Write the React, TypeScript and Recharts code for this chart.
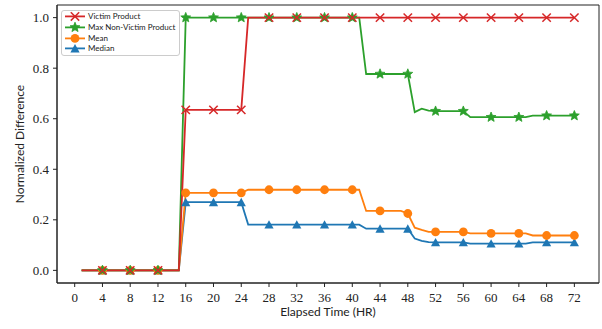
import { LineChart, Line, XAxis, YAxis, ReferenceArea, Legend } from 'recharts';

// elapsed hours (one sample per hour)
const hours = [
  1, 2, 3, 4, 5, 6, 7, 8, 9, 10, 11, 12, 13, 14, 15, 16, 17, 18, 19, 20, 21, 22, 23, 24,
  25, 26, 27, 28, 29, 30, 31, 32, 33, 34, 35, 36, 37, 38, 39, 40, 41, 42, 43, 44, 45, 46, 47, 48,
  49, 50, 51, 52, 53, 54, 55, 56, 57, 58, 59, 60, 61, 62, 63, 64, 65, 66, 67, 68, 69, 70, 71, 72,
];

const victim = [
  0, 0, 0, 0, 0, 0, 0, 0, 0, 0, 0, 0, 0, 0, 0, 0.635, 0.635, 0.635, 0.635, 0.635, 0.635, 0.635, 0.635, 0.635,
  1, 1, 1, 1, 1, 1, 1, 1, 1, 1, 1, 1, 1, 1, 1, 1, 1, 1, 1, 1, 1, 1, 1, 1,
  1, 1, 1, 1, 1, 1, 1, 1, 1, 1, 1, 1, 1, 1, 1, 1, 1, 1, 1, 1, 1, 1, 1, 1,
];

const maxOther = [
  0, 0, 0, 0, 0, 0, 0, 0, 0, 0, 0, 0, 0, 0, 0, 1, 1, 1, 1, 1, 1, 1, 1, 1,
  1, 1, 1, 1, 1, 1, 1, 1, 1, 1, 1, 1, 1, 1, 1, 1, 1, 0.777, 0.777, 0.777, 0.777, 0.777, 0.777, 0.777,
  0.626, 0.64, 0.632, 0.63, 0.63, 0.63, 0.63, 0.63, 0.606, 0.606, 0.606, 0.606, 0.606, 0.606, 0.606, 0.606,
  0.606, 0.612, 0.612, 0.612, 0.612, 0.612, 0.612, 0.612,
];

const mean = [
  0, 0, 0, 0, 0, 0, 0, 0, 0, 0, 0, 0, 0, 0, 0, 0.307, 0.307, 0.307, 0.307, 0.307, 0.307, 0.307, 0.307, 0.307,
  0.319, 0.319, 0.319, 0.319, 0.319, 0.319, 0.319, 0.319, 0.319, 0.319, 0.319, 0.319, 0.319, 0.319, 0.319, 0.319,
  0.319, 0.235, 0.235, 0.235, 0.235, 0.235, 0.235, 0.225,
  0.169, 0.16, 0.152, 0.152, 0.152, 0.152, 0.152, 0.152, 0.146, 0.146, 0.146, 0.146, 0.146, 0.146, 0.146, 0.146,
  0.146, 0.138, 0.138, 0.138, 0.138, 0.138, 0.138, 0.138,
];

const median = [
  0, 0, 0, 0, 0, 0, 0, 0, 0, 0, 0, 0, 0, 0, 0, 0.27, 0.27, 0.27, 0.27, 0.27, 0.27, 0.27, 0.27, 0.27,
  0.181, 0.181, 0.181, 0.181, 0.181, 0.181, 0.181, 0.181, 0.181, 0.181, 0.181, 0.181, 0.181, 0.181, 0.181, 0.181,
  0.181, 0.165, 0.165, 0.165, 0.165, 0.165, 0.165, 0.165,
  0.126, 0.117, 0.112, 0.111, 0.111, 0.111, 0.111, 0.111, 0.106, 0.106, 0.106, 0.106, 0.106, 0.106, 0.106, 0.106,
  0.106, 0.111, 0.111, 0.111, 0.111, 0.111, 0.111, 0.111,
];

const xTicks = [0, 4, 8, 12, 16, 20, 24, 28, 32, 36, 40, 44, 48, 52, 56, 60, 64, 68, 72];
const yTicks = [0, 0.2, 0.4, 0.6, 0.8, 1.0];

const series = [
  { key: 'victim', name: 'Victim Product', color: '#d62728', marker: 'x' },
  { key: 'maxOther', name: 'Max Non-Victim Product', color: '#2ca02c', marker: 'star' },
  { key: 'mean', name: 'Mean', color: '#ff7f0e', marker: 'circle' },
  { key: 'median', name: 'Median', color: '#1f77b4', marker: 'tri' },
];

const data = hours.map((t, i) => ({
  t,
  victim: victim[i],
  maxOther: maxOther[i],
  mean: mean[i],
  median: median[i],
}));

const starPoints = (cx: number, cy: number, ro: number, ri: number) => {
  const pts: string[] = [];
  for (let k = 0; k < 10; k++) {
    const r = k % 2 === 0 ? ro : ri;
    const a = -Math.PI / 2 + (k * Math.PI) / 5;
    pts.push(`${cx + r * Math.cos(a)},${cy + r * Math.sin(a)}`);
  }
  return pts.join(' ');
};

const Marker = ({ kind, cx, cy, color }: any) => {
  if (kind === 'x') {
    const s = 4.2;
    return (
      <g stroke={color} strokeWidth={1.5}>
        <line x1={cx - s} y1={cy - s} x2={cx + s} y2={cy + s} />
        <line x1={cx - s} y1={cy + s} x2={cx + s} y2={cy - s} />
      </g>
    );
  }
  if (kind === 'star') return <polygon points={starPoints(cx, cy, 5.2, 2.3)} fill={color} stroke={color} strokeWidth={0.8} />;
  if (kind === 'circle') return <circle cx={cx} cy={cy} r={4.4} fill={color} />;
  return <polygon points={`${cx},${cy - 4.4} ${cx - 4.6},${cy + 4} ${cx + 4.6},${cy + 4}`} fill={color} />;
};

const makeDot = (kind: string, color: string) => (props: any) => {
  const { cx, cy, payload, index } = props;
  if (payload.t % 4 !== 0) return <g key={`d-${kind}-${index}`} />;
  return (
    <g key={`d-${kind}-${index}`}>
      <Marker kind={kind} cx={cx} cy={cy} color={color} />
    </g>
  );
};

const renderLegend = () => (
  <div
    style={{
      border: '1px solid #cccccc',
      borderRadius: 3,
      background: 'rgba(255,255,255,0.85)',
      padding: '0 4px 1px 3px',
      fontFamily: 'Lato, sans-serif',
      fontSize: 8,
      lineHeight: '10.8px',
      color: '#222',
    }}
  >
    {series.map((s) => (
      <div key={s.key} style={{ display: 'flex', alignItems: 'center', whiteSpace: 'nowrap' }}>
        <svg width={20} height={10.8} style={{ marginRight: 3 }}>
          <line x1={0} y1={5.4} x2={20} y2={5.4} stroke={s.color} strokeWidth={1.8} />
          <Marker kind={s.marker} cx={10} cy={5.4} color={s.color} />
        </svg>
        <span>{s.name}</span>
      </div>
    ))}
  </div>
);

const tickFont = { fontFamily: '"Liberation Serif", serif', fontSize: 13, fill: '#222' };

export default function App() {
  const drawOrder = [...series].reverse();
  return (
    <div style={{ position: 'absolute', left: 0, top: 0 }}>
      <LineChart width={602} height={329} data={data} margin={{ top: 5, right: 3, bottom: 16, left: 5 }}>
        <XAxis
          dataKey="t"
          type="number"
          domain={[-2.55, 75.55]}
          ticks={xTicks}
          allowDataOverflow
          interval={0}
          height={30}
          tickSize={4}
          tickMargin={6}
          stroke="#222"
          tick={tickFont}
          label={{
            value: 'Elapsed Time (HR)',
            position: 'insideBottom',
            offset: -3,
            style: { fontFamily: 'Lato, sans-serif', fontSize: 12, fill: '#222' },
          }}
        />
        <YAxis
          type="number"
          domain={[-0.05, 1.05]}
          ticks={yTicks}
          allowDataOverflow
          width={52}
          tickSize={4}
          tickMargin={4}
          stroke="#222"
          tick={tickFont}
          tickFormatter={(v: number) => v.toFixed(1)}
          label={{
            value: 'Normalized Difference',
            angle: -90,
            position: 'insideLeft',
            offset: 15,
            style: { textAnchor: 'middle', fontFamily: 'Lato, sans-serif', fontSize: 12, fill: '#222' },
          }}
        />
        <ReferenceArea x1={-2.55} x2={75.55} y1={-0.05} y2={1.05} fill="none" stroke="#222" strokeWidth={1} ifOverflow="visible" />
        {drawOrder.map((s) => (
          <Line
            key={s.key}
            dataKey={s.key}
            name={s.name}
            stroke={s.color}
            strokeWidth={1.8}
            type="linear"
            dot={makeDot(s.marker, s.color)}
            activeDot={false}
            isAnimationActive={false}
          />
        ))}
        <Legend
          layout="horizontal"
          verticalAlign="middle"
          align="center"
          content={renderLegend}
          wrapperStyle={{ left: 61, top: 10, width: 'auto', height: 'auto' }}
        />
      </LineChart>
    </div>
  );
}
